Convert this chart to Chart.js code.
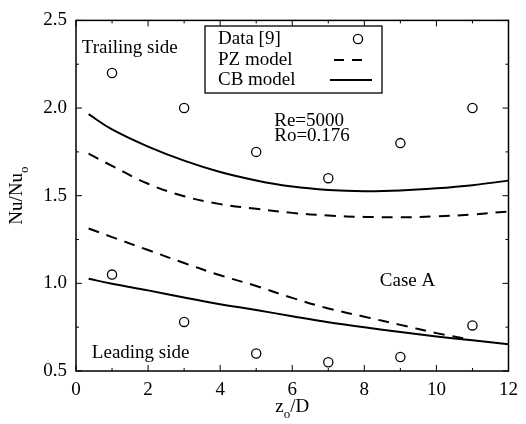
<!DOCTYPE html>
<html>
<head>
<meta charset="utf-8">
<script src="https://cdn.jsdelivr.net/npm/chart.js@4/dist/chart.umd.min.js"></script>
<style>
  html, body { margin: 0; padding: 0; background: #fff; }
  #wrap { width: 526px; height: 424px; }
</style>
</head>
<body>
<div id="wrap"><canvas id="c" width="526" height="424"></canvas></div>
<script>
// ---- data ----
const dataX = [1, 3, 5, 7, 9, 11];
const dataTrailing = [2.2, 2.0, 1.75, 1.6, 1.8, 2.0];
const dataLeading = [1.05, 0.78, 0.6, 0.55, 0.58, 0.76];

const curveX = [0.35, 1, 2, 3, 4, 5, 6, 7, 8, 9, 10, 11, 12];
const cbTrailing = [1.965, 1.878, 1.78, 1.70, 1.635, 1.587, 1.552, 1.533, 1.526, 1.53, 1.542, 1.56, 1.586];
const pzTrailing = [1.74, 1.67, 1.568, 1.497, 1.452, 1.425, 1.402, 1.387, 1.379, 1.377, 1.382, 1.393, 1.41];
const cbLeading = [1.026, 0.998, 0.96, 0.919, 0.881, 0.848, 0.812, 0.778, 0.75, 0.722, 0.697, 0.675, 0.652];

const pzLeadX = [0.35, 1, 2, 3, 4, 5, 6, 7, 8, 9, 10, 10.8];
const pzLeading = [1.313, 1.264, 1.19, 1.116, 1.046, 0.985, 0.917, 0.857, 0.81, 0.763, 0.716, 0.684];

const xTicks = [0, 2, 4, 6, 8, 10, 12];
const yTicks = [0.5, 1.0, 1.5, 2.0, 2.5];

const legendLabels = ['Data [9]', 'PZ model', 'CB model'];
const notes = [
  { text: 'Trailing side', x: 0.16, y: 2.345 },
  { text: 'Re=5000', x: 5.5, y: 1.925 },
  { text: 'Ro=0.176', x: 5.5, y: 1.842 },
  { text: 'Case A', x: 8.43, y: 1.013 },
  { text: 'Leading side', x: 0.44, y: 0.601 }
];

const FONT = '"Liberation Serif", "Times New Roman", Times, serif';
const FS = 19;

const pts = (xs, ys) => xs.map((x, i) => ({ x: x, y: ys[i] }));

const lineBase = {
  type: 'line',
  borderColor: '#000',
  backgroundColor: '#000',
  borderWidth: 2,
  pointRadius: 0,
  fill: false,
  tension: 0.4
};

const datasets = [
  Object.assign({}, lineBase, { label: 'CB model', data: pts(curveX, cbTrailing) }),
  Object.assign({}, lineBase, { label: 'PZ model', data: pts(curveX, pzTrailing), borderDash: [11, 8] }),
  Object.assign({}, lineBase, { label: 'CB model', data: pts(curveX, cbLeading) }),
  Object.assign({}, lineBase, { label: 'PZ model', data: pts(pzLeadX, pzLeading), borderDash: [11, 8] }),
  { type: 'scatter', label: 'Data [9]', data: pts(dataX, dataTrailing), pointRadius: 4.6, pointBorderWidth: 1.3,
    pointBorderColor: '#000', pointBackgroundColor: 'rgba(255,255,255,0)', showLine: false },
  { type: 'scatter', label: 'Data [9]', data: pts(dataX, dataLeading), pointRadius: 4.6, pointBorderWidth: 1.3,
    pointBorderColor: '#000', pointBackgroundColor: 'rgba(255,255,255,0)', showLine: false }
];

function drawSub(ctx, main, sub, tail, x, y, align) {
  ctx.save();
  ctx.textBaseline = 'alphabetic';
  ctx.font = FS + 'px ' + FONT;
  const wMain = ctx.measureText(main).width;
  ctx.font = Math.round(FS * 0.7) + 'px ' + FONT;
  const wSub = ctx.measureText(sub).width;
  ctx.font = FS + 'px ' + FONT;
  const wTail = ctx.measureText(tail).width;
  const total = wMain + wSub + wTail;
  let x0 = align === 'center' ? x - total / 2 : x;
  const base = y + FS * 0.33;
  ctx.fillStyle = '#000';
  ctx.fillText(main, x0, base);
  ctx.font = Math.round(FS * 0.7) + 'px ' + FONT;
  ctx.fillText(sub, x0 + wMain, base + FS * 0.28);
  ctx.font = FS + 'px ' + FONT;
  ctx.fillText(tail, x0 + wMain + wSub, base);
  ctx.restore();
}

const decorPlugin = {
  id: 'decor',
  beforeDatasetsDraw(chart) {
    const { ctx, chartArea: a, scales } = chart;
    const xs = scales.x, ys = scales.y;
    ctx.save();
    ctx.strokeStyle = '#000';
    ctx.lineWidth = 1.5;
    ctx.strokeRect(a.left, a.top, a.right - a.left, a.bottom - a.top);
    ctx.lineWidth = 1;
    for (let v = 0; v <= 12; v += 1) {
      const px = xs.getPixelForValue(v);
      const len = (v % 2 === 0) ? 6 : 3;
      ctx.beginPath();
      ctx.moveTo(px, a.bottom); ctx.lineTo(px, a.bottom - len);
      ctx.moveTo(px, a.top); ctx.lineTo(px, a.top + len);
      ctx.stroke();
    }
    for (let v = 0.5; v <= 2.5001; v += 0.25) {
      const py = ys.getPixelForValue(v);
      const len = (Math.abs(v * 2 - Math.round(v * 2)) < 1e-6) ? 6 : 3;
      ctx.beginPath();
      ctx.moveTo(a.left, py); ctx.lineTo(a.left + len, py);
      ctx.moveTo(a.right, py); ctx.lineTo(a.right - len, py);
      ctx.stroke();
    }
    ctx.restore();
  },
  afterDraw(chart) {
    const { ctx, chartArea: a, scales } = chart;
    const xs = scales.x, ys = scales.y;
    ctx.save();
    ctx.fillStyle = '#000';
    ctx.font = FS + 'px ' + FONT;
    ctx.textBaseline = 'middle';
    ctx.textAlign = 'left';
    notes.forEach(n => ctx.fillText(n.text, xs.getPixelForValue(n.x), ys.getPixelForValue(n.y)));

    const lx = 205, ly = 26, lw = 177, lh = 67;
    ctx.fillStyle = '#fff';
    ctx.fillRect(lx, ly, lw, lh);
    ctx.strokeStyle = '#000';
    ctx.lineWidth = 1.3;
    ctx.strokeRect(lx, ly, lw, lh);
    ctx.fillStyle = '#000';
    const rows = [39, 60, 80];
    legendLabels.forEach((t, i) => {
      ctx.fillText(t, 218, rows[i]);
    });
    ctx.lineWidth = 1.3;
    ctx.beginPath();
    ctx.arc(358, rows[0], 4.6, 0, Math.PI * 2);
    ctx.stroke();
    ctx.lineWidth = 2;
    ctx.setLineDash([10, 8]);
    ctx.beginPath();
    ctx.moveTo(334, rows[1]); ctx.lineTo(364, rows[1]);
    ctx.stroke();
    ctx.setLineDash([]);
    ctx.beginPath();
    ctx.moveTo(330, rows[2]); ctx.lineTo(372, rows[2]);
    ctx.stroke();

    drawSub(ctx, 'z', 'o', '/D', (a.left + a.right) / 2, 406, 'center');
    ctx.save();
    ctx.translate(16, (a.top + a.bottom) / 2);
    ctx.rotate(-Math.PI / 2);
    drawSub(ctx, 'Nu/Nu', 'o', '', 0, 0, 'center');
    ctx.restore();
    ctx.restore();
  }
};

new Chart(document.getElementById('c'), {
  data: { datasets: datasets },
  options: {
    responsive: false,
    animation: false,
    layout: { padding: { top: 16, right: 10, left: 0, bottom: 0 } },
    plugins: { legend: { display: false }, tooltip: { enabled: false } },
    scales: {
      x: {
        type: 'linear', min: 0, max: 12,
        afterBuildTicks: s => { s.ticks = xTicks.map(v => ({ value: v })); },
        ticks: { font: { family: FONT, size: FS }, color: '#000', padding: 8,
                 callback: v => String(v), maxRotation: 0 },
        grid: { display: false, drawTicks: false },
        border: { display: false },
        afterFit: s => { s.height = 53; }
      },
      y: {
        type: 'linear', min: 0.5, max: 2.5,
        afterBuildTicks: s => { s.ticks = yTicks.map(v => ({ value: v })); },
        ticks: { font: { family: FONT, size: FS }, color: '#000', padding: 9,
                 callback: v => Number(v).toFixed(1) },
        grid: { display: false, drawTicks: false },
        border: { display: false },
        afterFit: s => { s.width = 76; }
      }
    }
  },
  plugins: [decorPlugin]
});
</script>
</body>
</html>
